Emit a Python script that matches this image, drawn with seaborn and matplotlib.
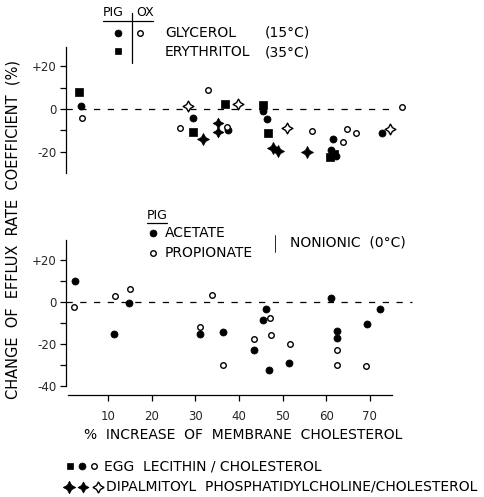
import matplotlib
matplotlib.use("Agg")
import matplotlib.pyplot as plt
import seaborn as sns
import pandas as pd
from matplotlib.lines import Line2D

sns.set_style("white")
plt.rcParams['font.family'] = ['DejaVu Sans']

# ---------------- data: top panel (glycerol / erythritol) ----------------
egg_pig_gly_x = [3.7, 29.4, 37.5, 45.6, 46.5, 61.5, 61.0, 62.2, 72.7]
egg_pig_gly_y = [1.4, -4.1, -9.9, -1.0, -4.8, -13.9, -19.0, -22.0, -11.1]
egg_pig_ery_x = [3.3, 29.4, 36.8, 45.6, 46.7, 61.8, 60.8]
egg_pig_ery_y = [7.9, -10.6, 2.2, 1.9, -11.1, -21.0, -22.3]
egg_ox_gly_x = [3.9, 26.5, 32.8, 37.3, 56.8, 63.8, 64.7, 66.8, 77.3]
egg_ox_gly_y = [-4.1, -8.8, 9.1, -8.3, -10.3, -15.3, -9.5, -11.4, 1.1]
dppc_pig_gly_x = [35.2, 35.2]
dppc_pig_gly_y = [-6.7, -10.6]
dppc_pig_ery_x = [31.8, 47.9, 49.0, 55.5]
dppc_pig_ery_y = [-13.9, -18.5, -19.6, -20.0]
dppc_ox_gly_x = [28.2, 39.8, 51.1, 74.6]
dppc_ox_gly_y = [1.4, 2.2, -9.1, -9.2]

# ---------------- data: bottom panel (nonionic, 0 C) ----------------
acetate_x = [2.4, 11.4, 14.8, 31.1, 36.4, 43.4, 46.1, 45.6, 46.8, 51.5, 61.0, 62.4, 62.4, 69.3, 72.3]
acetate_y = [10.0, -15.2, -0.6, -15.2, -14.6, -23.2, -3.3, -8.9, -32.4, -29.4, 1.8, -14.1, -17.3, -10.8, -3.5]
propionate_x = [2.2, 11.6, 15.0, 33.9, 31.1, 36.3, 43.4, 47.1, 47.3, 51.7, 62.4, 62.4, 69.2]
propionate_y = [-2.7, 2.5, 6.0, 3.3, -12.1, -30.3, -17.8, -7.8, -16.0, -20.3, -23.2, -29.9, -30.5]

x_ticks = [10, 20, 30, 40, 50, 60, 70]
top_yticks = [-20, 0, 20]
top_yticklabels = ["-20", "0", "+20"]
bot_yticks = [-40, -20, 0, 20]
bot_yticklabels = ["-40", "-20", "0", "+20"]

W, H = 485, 497
fig = plt.figure(figsize=(W / 100, H / 100), dpi=100)

def fx(px):
    return px / W

def fy(py):
    return 1 - py / H

left = fx(66)
width = fx(413.4) - left
ax1 = fig.add_axes([left, fy(173), width, (173 - 46.7) / H])
ax2 = fig.add_axes([left, fy(395), width, (395 - 240) / H])

XMIN, XMAX = 0.3, 80
STAR = (4, 1, 0)

def pts(ax, xs, ys, marker, filled, s):
    df = pd.DataFrame({"x": xs, "y": ys})
    if filled:
        sns.scatterplot(data=df, x="x", y="y", marker=marker, color="black",
                        edgecolor="black", linewidth=0.5, s=s, ax=ax, zorder=3, clip_on=False)
    else:
        sns.scatterplot(data=df, x="x", y="y", marker=marker, color="white",
                        edgecolor="black", linewidth=1.0, s=s, ax=ax, zorder=4, clip_on=False)

# ---- top panel ----
ax1.hlines(0, XMIN, 75.8, colors="black", linewidth=0.9, linestyles=(0, (5, 6)), zorder=1)
pts(ax1, egg_pig_ery_x, egg_pig_ery_y, "s", True, 28)
pts(ax1, egg_pig_gly_x, egg_pig_gly_y, "o", True, 26)
pts(ax1, dppc_pig_ery_x, dppc_pig_ery_y, STAR, True, 75)
pts(ax1, dppc_pig_gly_x, dppc_pig_gly_y, STAR, True, 60)
pts(ax1, egg_ox_gly_x, egg_ox_gly_y, "o", False, 16)
pts(ax1, dppc_ox_gly_x, dppc_ox_gly_y, STAR, False, 60)
ax1.set_xlim(XMIN, XMAX)
ax1.set_ylim(-30, 29.2)
ax1.set_yticks(top_yticks)
ax1.set_yticklabels(top_yticklabels)
ax1.set_yticks([-10, 10], minor=True)
ax1.set_xticks([])
for sp in ["top", "right", "bottom"]:
    ax1.spines[sp].set_visible(False)

# ---- bottom panel ----
ax2.hlines(0, XMIN, 79.7, colors="black", linewidth=0.9, linestyles=(0, (5, 6)), zorder=1)
pts(ax2, acetate_x, acetate_y, "o", True, 26)
pts(ax2, propionate_x, propionate_y, "o", False, 16)
ax2.set_xlim(XMIN, XMAX)
ax2.set_ylim(-44.4, 29.4)
ax2.set_yticks(bot_yticks)
ax2.set_yticklabels(bot_yticklabels)
ax2.set_yticks([-30, -10, 10], minor=True)
ax2.set_xticks(x_ticks)
ax2.set_xticklabels([str(t) for t in x_ticks])
for sp in ["top", "right"]:
    ax2.spines[sp].set_visible(False)
ax2.spines["left"].set_bounds(-40, 29.4)
ax2.spines["bottom"].set_bounds(0.8, 75)

for ax in (ax1, ax2):
    ax.set_xlabel("")
    ax.set_ylabel("")
    ax.set_facecolor("white")
    for sp in ax.spines.values():
        sp.set_color("black")
        sp.set_linewidth(0.9)
    ax.tick_params(axis="y", which="both", direction="out", length=4, width=0.9,
                   color="black", left=True, labelsize=8.5, pad=2.5)
    ax.tick_params(axis="x", which="both", direction="out", length=4, width=0.9,
                   color="black", bottom=True, labelsize=8.5, pad=7)

TXT = dict(color="black", fontsize=10)
HDR = dict(color="black", fontsize=9)

# y label
fig.text(fx(13), fy(230), "CHANGE  OF  EFFLUX  RATE  COEFFICIENT  (%)", rotation=90,
         ha="center", va="center", color="black", fontsize=10.5)
# x label
fig.text(fx(243), fy(435), "%  INCREASE  OF  MEMBRANE  CHOLESTEROL", ha="center", va="center",
         color="black", fontsize=10)

def mk(px, py, marker, filled, ms):
    fig.add_artist(Line2D([fx(px)], [fy(py)], marker=marker, markersize=ms, linestyle="none",
                          markerfacecolor="black" if filled else "white",
                          markeredgecolor="black", markeredgewidth=0.5 if filled else 1.0,
                          transform=fig.transFigure))

def hline(x0, x1, y):
    fig.add_artist(Line2D([fx(x0), fx(x1)], [fy(y), fy(y)], color="black", linewidth=0.9,
                          transform=fig.transFigure))

def vline(x, y0, y1, lw=0.9):
    fig.add_artist(Line2D([fx(x), fx(x)], [fy(y0), fy(y1)], color="black", linewidth=lw,
                          transform=fig.transFigure))

# top legend
fig.text(fx(103), fy(12), "PIG", ha="left", va="center", **HDR)
fig.text(fx(136), fy(12), "OX", ha="left", va="center", **HDR)
hline(103, 153, 21)
vline(132, 13, 63)
mk(118, 33, "o", True, 5)
mk(140, 33, "o", False, 4)
mk(118, 51, "s", True, 5)
fig.text(fx(165), fy(33), "GLYCEROL", ha="left", va="center", **TXT)
fig.text(fx(310), fy(33), "(15°C)", ha="right", va="center", **TXT)
fig.text(fx(165), fy(52), "ERYTHRITOL", ha="left", va="center", **TXT)
fig.text(fx(310), fy(52), "(35°C)", ha="right", va="center", **TXT)

# middle legend
fig.text(fx(147), fy(215), "PIG", ha="left", va="center", **HDR)
hline(147, 167, 223)
mk(153, 233, "o", True, 5)
fig.text(fx(165), fy(233), "ACETATE", ha="left", va="center", **TXT)
mk(153, 253, "o", False, 4)
fig.text(fx(165), fy(253), "PROPIONATE", ha="left", va="center", **TXT)
vline(275, 235, 252, lw=0.6)
fig.text(fx(290), fy(243), "NONIONIC  (0°C)", ha="left", va="center", **TXT)

# bottom legend
mk(70, 466, "s", True, 5)
mk(82, 466, "o", True, 5)
mk(94, 466, "o", False, 4)
fig.text(fx(104), fy(466), "EGG  LECITHIN / CHOLESTEROL", ha="left", va="center", **TXT)
mk(69, 487, STAR, True, 9)
mk(83, 487, STAR, True, 8)
mk(98, 487, STAR, False, 8)
fig.text(fx(106), fy(487), "DIPALMITOYL  PHOSPHATIDYLCHOLINE/CHOLESTEROL", ha="left", va="center",
         color="black", fontsize=10)

fig.savefig("out.png", dpi=100, facecolor="white")
